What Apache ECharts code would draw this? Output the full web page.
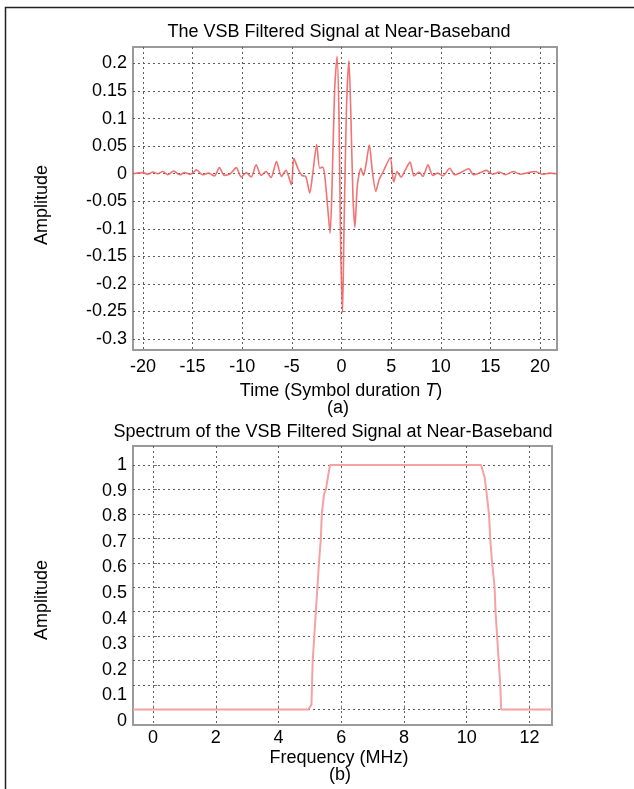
<!DOCTYPE html>
<html>
<head>
<meta charset="utf-8">
<script src="https://cdn.jsdelivr.net/npm/echarts@6/dist/echarts.min.js"></script>
<style>
  html, body { margin: 0; padding: 0; background: #fff; }
  #main { width: 634px; height: 789px; }
</style>
</head>
<body>
<div id="main"></div>
<script>
// (a) time-domain signal, [time in T, amplitude]
var timeSignal = [
  [-21.0, 0.000], [-20.0, 0.002], [-19.5, -0.001], [-19.0, 0.003], [-18.5, 0.000],
  [-18.0, 0.004], [-17.5, -0.002], [-16.9, 0.005], [-16.3, -0.002], [-15.8, 0.002],
  [-15.2, -0.001], [-14.6, 0.007], [-14.0, -0.002], [-13.4, 0.001], [-12.8, -0.004],
  [-12.3, 0.011], [-11.8, -0.003], [-11.2, 0.000], [-10.6, 0.011], [-10.1, -0.006],
  [-9.6, 0.002], [-9.1, -0.006], [-8.6, 0.016], [-8.1, -0.003], [-7.6, 0.004],
  [-7.1, -0.007], [-6.55, 0.022], [-6.05, -0.005], [-5.6, 0.006], [-5.05, -0.020],
  [-4.8, 0.028], [-4.4, 0.010], [-4.0, -0.003], [-3.6, -0.005], [-3.2, -0.035],
  [-2.9, 0.000], [-2.5, 0.053], [-2.2, 0.010], [-1.9, 0.012], [-1.7, -0.002],
  [-1.4, -0.060], [-1.15, -0.108], [-0.95, -0.020], [-0.7, 0.150], [-0.45, 0.213],
  [-0.25, 0.100], [-0.1, -0.120], [0.1, -0.252], [0.25, -0.100], [0.5, 0.120],
  [0.75, 0.205], [0.95, 0.100], [1.15, -0.040], [1.35, -0.097], [1.6, -0.020],
  [1.95, 0.010], [2.2, -0.003], [2.45, 0.015], [2.8, 0.052], [3.1, 0.005],
  [3.45, -0.032], [3.8, -0.010], [4.2, 0.004], [4.9, 0.029], [5.25, -0.015],
  [5.6, 0.004], [6.0, -0.006], [6.4, 0.006], [6.9, 0.021], [7.3, -0.004],
  [7.8, 0.003], [8.2, -0.005], [8.7, 0.016], [9.2, -0.003], [9.7, 0.001],
  [10.2, -0.004], [10.9, 0.010], [11.4, -0.002], [12.0, 0.002], [12.8, 0.009],
  [13.3, -0.002], [14.0, 0.002], [14.6, 0.006], [15.2, -0.001], [15.9, 0.003],
  [16.5, -0.002], [17.3, 0.004], [18.0, -0.001], [18.8, 0.002], [19.5, 0.004],
  [20.2, -0.001], [21.0, 0.001], [21.7, 0.000]
]

// (b) spectrum, [frequency in MHz, amplitude]
var spectrum = [
  [-0.64, 0], [4.95, 0], [5.05, 0.02], [5.09, 0.2], [5.19, 0.4], [5.29, 0.6],
  [5.35, 0.7], [5.38, 0.8], [5.45, 0.88], [5.51, 0.9], [5.64, 1.0],
  [10.46, 1.0], [10.57, 0.95], [10.62, 0.9], [10.71, 0.8], [10.75, 0.7],
  [10.81, 0.6], [10.89, 0.5], [10.92, 0.4], [10.97, 0.3], [11.02, 0.2],
  [11.07, 0.1], [11.1, 0], [12.72, 0]
]

// tick labels
var timeTicks = [-20, -15, -10, -5, 0, 5, 10, 15, 20]
var ampTicksTop = [-0.3, -0.25, -0.2, -0.15, -0.1, -0.05, 0, 0.05, 0.1, 0.15, 0.2]
var freqTicks = [0, 2, 4, 6, 8, 10, 12]
var ampTicksBottom = [0, 0.1, 0.2, 0.3, 0.4, 0.5, 0.6, 0.7, 0.8, 0.9, 1]

var FONT = 'Liberation Sans, Arial, sans-serif'
var gridLine = { show: true, lineStyle: { color: '#5e5e5e', width: 1, type: [2, 3] } }
var tickLabel = { fontSize: 18, color: '#000', fontFamily: FONT }

const myChart = echarts.init(document.getElementById('main'), null, { renderer: 'canvas' })

myChart.setOption({
  animation: false,
  backgroundColor: '#fff',
  grid: [
    { left: 133, top: 47, width: 424, height: 303, show: true, borderColor: '#9a9a9a', borderWidth: 2, outerBoundsMode: 'none' },
    { left: 133, top: 446, width: 419, height: 279, show: true, borderColor: '#9a9a9a', borderWidth: 2, outerBoundsMode: 'none' }
  ],
  xAxis: [
    {
      gridIndex: 0,
      type: 'value',
      min: -21,
      max: 21.7,
      axisLine: { show: false },
      axisTick: { show: true, inside: true, length: 4, customValues: timeTicks, lineStyle: { color: '#777' } },
      axisLabel: Object.assign({ margin: 8, customValues: timeTicks, formatter: v => String(v) }, tickLabel),
      splitLine: gridLine
    },
    {
      gridIndex: 1,
      type: 'value',
      min: -0.64,
      max: 12.72,
      axisLine: { show: false },
      axisTick: { show: true, inside: true, length: 4, customValues: freqTicks, lineStyle: { color: '#777' } },
      axisLabel: Object.assign({ margin: 4, customValues: freqTicks, formatter: v => String(v) }, tickLabel),
      splitLine: gridLine
    }
  ],
  yAxis: [
    {
      gridIndex: 0,
      type: 'value',
      position: 'left',
      min: -0.32,
      max: 0.23,
      axisLine: { show: false },
      axisTick: { show: true, inside: true, length: 4, customValues: ampTicksTop, lineStyle: { color: '#777' } },
      axisLabel: Object.assign({ margin: 6, customValues: ampTicksTop, formatter: v => String(v) }, tickLabel),
      splitLine: gridLine
    },
    {
      // grid lines and data of (b)
      gridIndex: 1,
      type: 'value',
      position: 'left',
      min: -0.0634,
      max: 1.0777,
      axisLine: { show: false },
      axisTick: { show: true, inside: true, length: 4, customValues: ampTicksBottom, lineStyle: { color: '#777' } },
      axisLabel: { show: false, customValues: ampTicksBottom },
      splitLine: gridLine
    },
    {
      // labels of (b) sit slightly lower than its grid lines in the original
      gridIndex: 1,
      type: 'value',
      position: 'left',
      offset: 0,
      min: -0.0156,
      max: 1.0742,
      axisLine: { show: false },
      axisTick: { show: false },
      axisLabel: Object.assign({ margin: 6, customValues: ampTicksBottom, formatter: v => String(v) }, tickLabel),
      splitLine: { show: false }
    }
  ],
  series: [
    {
      type: 'line',
      xAxisIndex: 0,
      yAxisIndex: 0,
      data: timeSignal,
      showSymbol: false,
      smooth: 0.25,
      lineStyle: { color: 'rgba(238, 90, 90, 0.85)', width: 1.6 }
    },
    {
      type: 'line',
      xAxisIndex: 1,
      yAxisIndex: 1,
      data: spectrum,
      showSymbol: false,
      lineStyle: { color: '#f4a2a2', width: 2 }
    }
  ],
  graphic: [
    { type: 'rect', shape: { x: 5.5, y: 7.5, width: 800, height: 900 }, style: { fill: null, stroke: '#222', lineWidth: 1.5 }, silent: true },
    { type: 'text', x: 339, y: 32, style: { text: 'The VSB Filtered Signal at Near-Baseband', fontSize: 18, fontFamily: FONT, fill: '#000', align: 'center', verticalAlign: 'middle' } },
    { type: 'text', x: 333, y: 432, style: { text: 'Spectrum of the VSB Filtered Signal at Near-Baseband', fontSize: 18, fontFamily: FONT, fill: '#000', align: 'center', verticalAlign: 'middle' } },
    {
      type: 'text', x: 341, y: 391,
      style: {
        text: 'Time (Symbol duration {i|T})',
        fontSize: 18, fontFamily: FONT, fill: '#000', align: 'center', verticalAlign: 'middle',
        rich: { i: { fontStyle: 'italic', fontSize: 18, fontFamily: FONT } }
      }
    },
    { type: 'text', x: 338, y: 408, style: { text: '(a)', fontSize: 18, fontFamily: FONT, fill: '#000', align: 'center', verticalAlign: 'middle' } },
    { type: 'text', x: 339, y: 758, style: { text: 'Frequency (MHz)', fontSize: 18, fontFamily: FONT, fill: '#000', align: 'center', verticalAlign: 'middle' } },
    { type: 'text', x: 340, y: 775, style: { text: '(b)', fontSize: 18, fontFamily: FONT, fill: '#000', align: 'center', verticalAlign: 'middle' } },
    { type: 'text', x: 42, y: 205, rotation: Math.PI / 2, style: { text: 'Amplitude', fontSize: 18, fontFamily: FONT, fill: '#000', align: 'center', verticalAlign: 'middle' } },
    { type: 'text', x: 42, y: 600, rotation: Math.PI / 2, style: { text: 'Amplitude', fontSize: 18, fontFamily: FONT, fill: '#000', align: 'center', verticalAlign: 'middle' } }
  ]
})
</script>
</body>
</html>
